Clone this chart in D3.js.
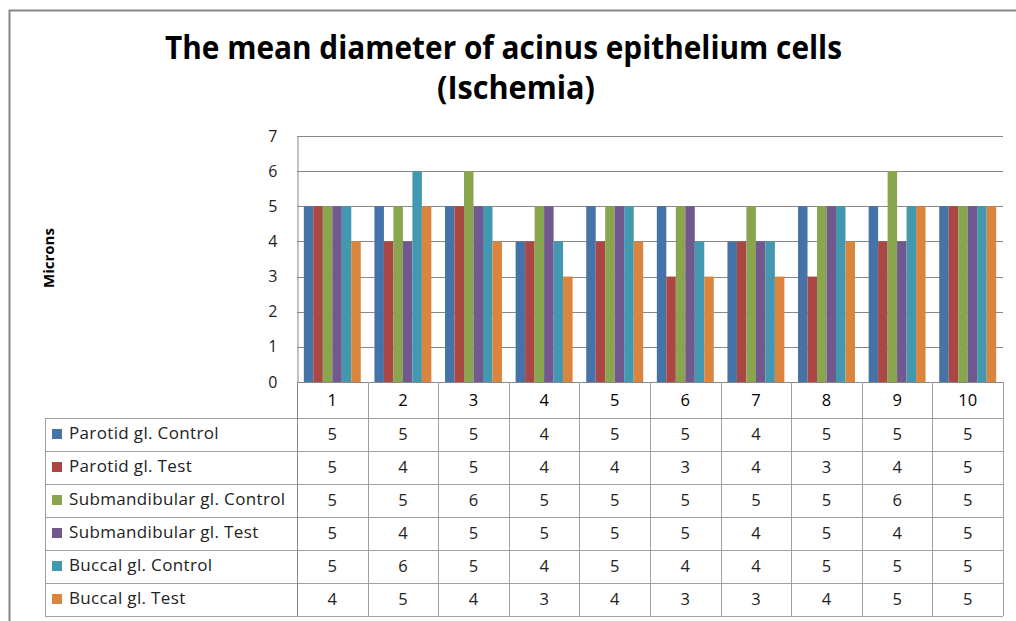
<!DOCTYPE html>
<html>
<head>
<meta charset="utf-8">
<script src="https://cdn.jsdelivr.net/npm/d3@7/dist/d3.min.js"></script>
<style>
  html, body { margin: 0; padding: 0; background: #fff; overflow: hidden; }
  svg { display: block; }
  text { font-family: "Open Sans", Lato, "DejaVu Sans", sans-serif; }
</style>
</head>
<body>
<svg id="chart" width="1016" height="621"></svg>
<script>
// ---- Data ----
const titleLines = ["The mean diameter of acinus epithelium cells", "(Ischemia)"];
const yAxisLabel = "Microns";
const categories = ["1", "2", "3", "4", "5", "6", "7", "8", "9", "10"];
const seriesNames = [
  "Parotid gl. Control",
  "Parotid gl. Test",
  "Submandibular gl. Control",
  "Submandibular gl. Test",
  "Buccal gl. Control",
  "Buccal gl. Test"
];
const parotidControl       = [5, 5, 5, 4, 5, 5, 4, 5, 5, 5];
const parotidTest          = [5, 4, 5, 4, 4, 3, 4, 3, 4, 5];
const submandibularControl = [5, 5, 6, 5, 5, 5, 5, 5, 6, 5];
const submandibularTest    = [5, 4, 5, 5, 5, 5, 4, 5, 4, 5];
const buccalControl        = [5, 6, 5, 4, 5, 4, 4, 5, 5, 5];
const buccalTest           = [4, 5, 4, 3, 4, 3, 3, 4, 5, 5];
const yTicks = [0, 1, 2, 3, 4, 5, 6, 7];
const seriesColors = ["#4572A7", "#AA4643", "#89A54E", "#71588F", "#4198AF", "#DB843D"];

const seriesValues = [parotidControl, parotidTest, submandibularControl, submandibularTest, buccalControl, buccalTest];
const series = seriesNames.map((name, i) => ({ name, values: seriesValues[i], color: seriesColors[i] }));

// ---- Layout ----
const svg = d3.select("#chart");
const plot = { left: 297, right: 1003, top: 136, bottom: 382 };
const table = { left: 45, headerBottom: 418, rowH: 33 };
const gridColor = "#888888";
const tableColor = "#a0a0a0";

// outer chart border (extends past viewport right/bottom)
svg.append("path")
  .attr("d", "M9.5,700V10.5H1100")
  .attr("fill", "none").attr("stroke", "#868686").attr("stroke-width", 2);

// Title
const titleCenters = [503.5, 516];
const titleWidths = [677, 158];
const titleBaselines = [58.5, 98.5];
titleLines.forEach((t, i) => {
  svg.append("text")
    .attr("x", titleCenters[i]).attr("y", titleBaselines[i])
    .attr("text-anchor", "middle")
    .attr("font-family", "Lato, 'Open Sans', sans-serif")
    .attr("font-size", 32).attr("font-weight", "bold")
    .attr("fill", "#000")
    .attr("textLength", titleWidths[i])
    .attr("lengthAdjust", "spacingAndGlyphs")
    .text(t);
});

// Scales
const y = d3.scaleLinear().domain([0, 7]).range([plot.bottom, plot.top]);
const x0 = d3.scaleBand().domain(categories).range([plot.left, plot.right]).paddingInner(0).paddingOuter(0);
const x1 = d3.scaleBand().domain(seriesNames).range([0, x0.bandwidth()]).paddingInner(0).paddingOuter(0.72);

// Gridlines
svg.append("g").selectAll("line").data(yTicks.filter(d => d > 0)).join("line")
  .attr("x1", plot.left).attr("x2", plot.right)
  .attr("y1", d => Math.round(y(d)) + 0.5).attr("y2", d => Math.round(y(d)) + 0.5)
  .attr("stroke", gridColor).attr("stroke-width", 1);

// Y axis with tick labels
const yAxis = d3.axisLeft(y).tickValues(yTicks).tickSize(0).tickPadding(20).tickFormat(d3.format("d"));
const yg = svg.append("g").attr("transform", `translate(${plot.left + 0.5},0)`).call(yAxis);
yg.select(".domain").attr("stroke", gridColor);
yg.selectAll("text").attr("font-size", 16).attr("fill", "#222").attr("font-family", "'Open Sans', sans-serif");

// Axis title
svg.append("text")
  .attr("transform", "translate(54,258) rotate(-90)")
  .attr("text-anchor", "middle")
  .attr("font-size", 15).attr("font-weight", "bold").attr("fill", "#000")
  .text(yAxisLabel);

// Bars
const groups = svg.append("g").selectAll("g").data(categories).join("g")
  .attr("transform", d => `translate(${x0(d)},0)`);
groups.selectAll("rect").data((c, ci) => series.map(s => ({ s, v: s.values[ci] }))).join("rect")
  .attr("x", d => x1(d.s.name))
  .attr("width", x1.bandwidth())
  .attr("y", d => y(d.v))
  .attr("height", d => y(0) - y(d.v))
  .attr("fill", d => d.s.color);

// X axis line (top of table header)
svg.append("line")
  .attr("x1", plot.left).attr("x2", plot.right)
  .attr("y1", plot.bottom + 0.5).attr("y2", plot.bottom + 0.5)
  .attr("stroke", gridColor);

// ---- Data table ----
const tableBottom = table.headerBottom + table.rowH * series.length;
const tg = svg.append("g");

// horizontal lines
const hLines = d3.range(series.length + 1).map(i => table.headerBottom + i * table.rowH);
tg.selectAll("line.h").data(hLines).join("line").attr("class", "h")
  .attr("x1", table.left).attr("x2", plot.right)
  .attr("y1", d => d + 0.5).attr("y2", d => d + 0.5)
  .attr("stroke", tableColor);

// vertical lines (category boundaries)
const vBounds = categories.map(c => x0(c)).concat([plot.right]);
tg.selectAll("line.v").data(vBounds).join("line").attr("class", "v")
  .attr("x1", d => Math.round(d) + 0.5).attr("x2", d => Math.round(d) + 0.5)
  .attr("y1", plot.bottom).attr("y2", tableBottom)
  .attr("stroke", (d, i) => i === 0 ? gridColor : tableColor);
// left border of legend column
tg.append("line")
  .attr("x1", table.left + 0.5).attr("x2", table.left + 0.5)
  .attr("y1", table.headerBottom).attr("y2", tableBottom)
  .attr("stroke", tableColor);

// header labels
tg.selectAll("text.cat").data(categories).join("text").attr("class", "cat")
  .attr("x", d => x0(d) + x0.bandwidth() / 2)
  .attr("y", plot.bottom + 24)
  .attr("text-anchor", "middle")
  .attr("font-size", 16.5).attr("fill", "#000")
  .text(d => d);

// rows
const rows = tg.selectAll("g.row").data(series).join("g").attr("class", "row")
  .attr("transform", (d, i) => `translate(0,${table.headerBottom + i * table.rowH})`);
rows.append("rect")
  .attr("x", 52).attr("y", 11).attr("width", 10).attr("height", 10)
  .attr("fill", d => d.color);
rows.append("text")
  .attr("x", 69).attr("y", 21)
  .attr("font-size", 17).attr("letter-spacing", 0.35).attr("fill", "#222")
  .text(d => d.name);
rows.selectAll("text.val").data(d => d.values.map((v, i) => ({ v, c: categories[i] }))).join("text")
  .attr("class", "val")
  .attr("x", d => x0(d.c) + x0.bandwidth() / 2)
  .attr("y", 22)
  .attr("text-anchor", "middle")
  .attr("font-size", 16.5).attr("fill", "#222")
  .text(d => d.v);
</script>
</body>
</html>
